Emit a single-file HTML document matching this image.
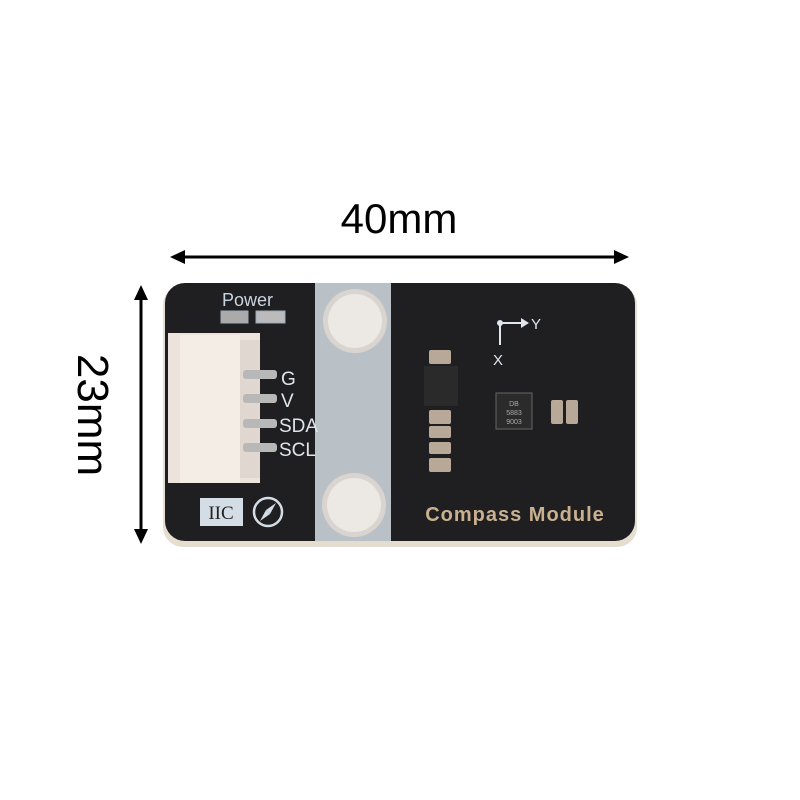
<!DOCTYPE html>
<html><head><meta charset="utf-8"><style>html,body{margin:0;padding:0;background:#fff}svg{display:block}</style></head>
<body>
<svg width="800" height="800" viewBox="0 0 800 800" xmlns="http://www.w3.org/2000/svg" font-family="Liberation Sans, sans-serif">
<rect width="800" height="800" fill="#fff"/>
<line x1="182" y1="257" x2="616" y2="257" stroke="#000" stroke-width="3"/>
<polygon points="170,257 185,250 185,264" fill="#000"/>
<polygon points="629,257 614,250 614,264" fill="#000"/>
<text x="399" y="233" font-size="42" text-anchor="middle" fill="#000">40mm</text>
<line x1="141" y1="298" x2="141" y2="532" stroke="#000" stroke-width="3"/>
<polygon points="141,285 134,300 148,300" fill="#000"/>
<polygon points="141,544 134,529 148,529" fill="#000"/>
<text x="0" y="0" font-size="44" text-anchor="middle" fill="#000" transform="translate(78,415) rotate(90)">23mm</text>
<rect x="163" y="285" width="474" height="262" rx="20" fill="#e4ddd0"/>
<rect x="165" y="283" width="470" height="258" rx="20" fill="#1f1f21"/>
<rect x="315" y="283" width="76" height="258" fill="#b9c0c6"/>
<circle cx="355" cy="321" r="32" fill="#d9d4cf"/>
<circle cx="355" cy="321" r="27" fill="#ece8e4"/>
<circle cx="354" cy="505" r="32" fill="#d9d4cf"/>
<circle cx="354" cy="505" r="27" fill="#ece8e4"/>
<text x="222" y="306" font-size="18" fill="#c8d4e0">Power</text>
<rect x="221" y="311" width="27" height="12" fill="#aaa" stroke="#9ab" stroke-width="1"/>
<rect x="256" y="311" width="29" height="12" fill="#bbb" stroke="#9ab"/>
<rect x="168" y="333" width="92" height="150" fill="#ece4dc"/>
<rect x="180" y="335" width="60" height="148" fill="#f4ede6"/>
<rect x="240" y="340" width="20" height="138" fill="#e0d8d0"/>
<g fill="#b8b8b8">
<rect x="243" y="370" width="34" height="9" rx="3"/>
<rect x="243" y="394" width="34" height="9" rx="3"/>
<rect x="243" y="419" width="34" height="9" rx="3"/>
<rect x="243" y="443" width="34" height="9" rx="3"/>
</g>
<g fill="#dde4ec" font-size="19">
<text x="281" y="385">G</text>
<text x="281" y="407">V</text>
<text x="279" y="432">SDA</text>
<text x="279" y="456">SCL</text>
</g>
<rect x="200" y="498" width="43" height="28" fill="#d4dde6"/>
<text x="221" y="519" font-size="19" font-family="Liberation Serif, serif" text-anchor="middle" fill="#222">IIC</text>
<circle cx="268" cy="512" r="14" fill="none" stroke="#d4dde6" stroke-width="2.5"/>
<polygon points="276,503 266,510 270,514" fill="#d4dde6"/>
<polygon points="260,521 266,510 270,514" fill="#d4dde6"/>
<g fill="#b7a898">
<rect x="429" y="350" width="22" height="14" rx="2"/>
<rect x="424" y="366" width="34" height="40" fill="#2a2a2a"/>
<rect x="429" y="410" width="22" height="14" rx="2"/>
<rect x="429" y="426" width="22" height="12" rx="2"/>
<rect x="429" y="442" width="22" height="12" rx="2"/>
<rect x="429" y="458" width="22" height="14" rx="2"/>
<rect x="551" y="400" width="12" height="24" rx="2"/>
<rect x="566" y="400" width="12" height="24" rx="2"/>
</g>
<rect x="496" y="393" width="36" height="36" fill="#2b2b2b" stroke="#666"/>
<text x="514" y="406" font-size="7" fill="#aaa" text-anchor="middle">DB</text>
<text x="514" y="415" font-size="7" fill="#aaa" text-anchor="middle">5883</text>
<text x="514" y="424" font-size="7" fill="#aaa" text-anchor="middle">9003</text>
<line x1="500" y1="323" x2="523" y2="323" stroke="#e0e6ee" stroke-width="2"/>
<polygon points="529,323 521,318 521,328" fill="#e0e6ee"/>
<line x1="500" y1="323" x2="500" y2="345" stroke="#e0e6ee" stroke-width="2"/>
<circle cx="500" cy="323" r="3" fill="#e0e6ee"/>
<text x="531" y="329" font-size="15" fill="#e0e6ee">Y</text>
<text x="493" y="365" font-size="15" fill="#e0e6ee">X</text>
<text x="515" y="521" font-size="20" font-weight="bold" letter-spacing="1" text-anchor="middle" fill="#c9b08f">Compass Module</text>
</svg>
</body></html>
